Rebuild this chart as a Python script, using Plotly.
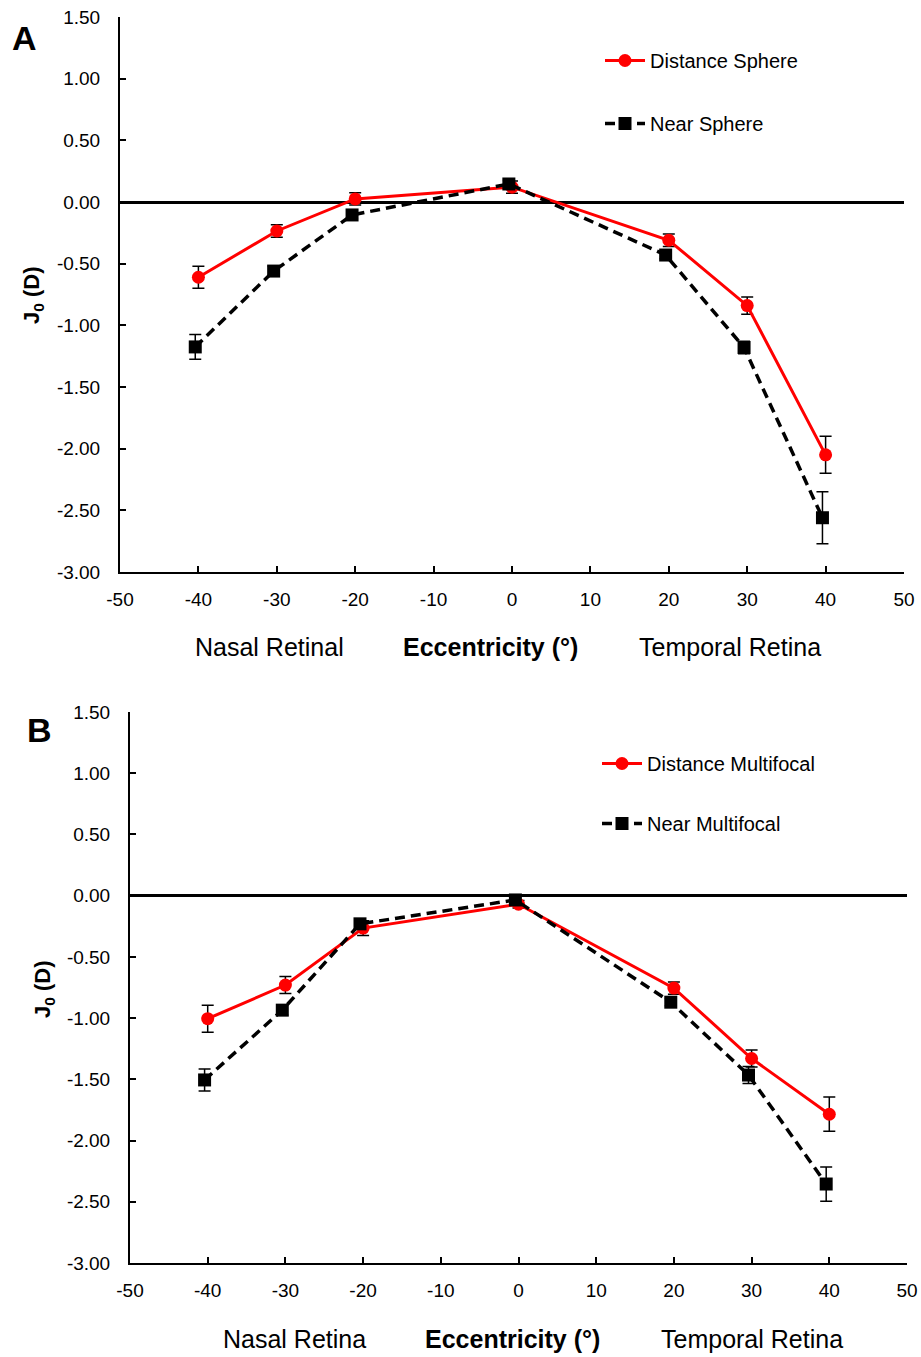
import plotly.graph_objects as go

# ---------------- data ----------------
ecc_dist = [-40, -30, -20, 0, 20, 30, 40]
ecc_near = [-40.4, -30.4, -20.4, -0.4, 19.6, 29.6, 39.6]

# Panel A
a_dist = [-0.61, -0.235, 0.025, 0.12, -0.31, -0.84, -2.05]
a_dist_err = [0.09, 0.05, 0.05, 0.05, 0.05, 0.07, 0.15]
a_near = [-1.175, -0.56, -0.105, 0.146, -0.43, -1.18, -2.56]
a_near_err = [0.10, 0.04, 0.03, 0.03, 0.03, 0.05, 0.21]

# Panel B
b_dist = [-1.005, -0.73, -0.265, -0.07, -0.755, -1.33, -1.785]
b_dist_err = [0.11, 0.07, 0.06, 0.03, 0.05, 0.07, 0.14]
b_near = [-1.505, -0.935, -0.23, -0.035, -0.87, -1.465, -2.355]
b_near_err = [0.09, 0.04, 0.03, 0.03, 0.03, 0.07, 0.14]

x_ticks = [-50, -40, -30, -20, -10, 0, 10, 20, 30, 40, 50]
x_tick_labels = ["-50", "-40", "-30", "-20", "-10", "0", "10", "20", "30", "40", "50"]
y_ticks = [1.5, 1.0, 0.5, 0.0, -0.5, -1.0, -1.5, -2.0, -2.5, -3.0]
y_tick_labels = ["1.50", "1.00", "0.50", "0.00", "-0.50", "-1.00", "-1.50", "-2.00", "-2.50", "-3.00"]

names_a = ["Distance Sphere", "Near Sphere"]
names_b = ["Distance Multifocal", "Near Multifocal"]

FONT = "Liberation Sans, Arial, sans-serif"
W, H = 921, 1357


def px(x):
    return x / W


def py(y):
    return 1 - y / H


fig = go.Figure()


def add_panel(dist, dist_err, near, near_err, names, xa, ya, legend):
    fig.add_trace(go.Scatter(
        x=ecc_dist, y=dist, name=names[0], mode="lines+markers",
        line=dict(color="#ff0000", width=3),
        marker=dict(symbol="circle", size=13, color="#ff0000"),
        error_y=dict(type="data", array=dist_err, color="black", thickness=1.5, width=6),
        xaxis=xa, yaxis=ya, legend=legend, legendgroup=legend + "d",
    ))
    fig.add_trace(go.Scatter(
        x=ecc_near, y=near, name=names[1], mode="lines+markers",
        line=dict(color="black", width=3.5, dash="10px,6px"),
        marker=dict(symbol="square", size=13, color="black"),
        error_y=dict(type="data", array=near_err, color="black", thickness=1.5, width=6),
        xaxis=xa, yaxis=ya, legend=legend, legendgroup=legend + "n",
    ))


add_panel(a_dist, a_dist_err, a_near, a_near_err, names_a, "x", "y", "legend")
add_panel(b_dist, b_dist_err, b_near, b_near_err, names_b, "x2", "y2", "legend2")

axis_common = dict(
    showgrid=False, showline=True, linecolor="black", linewidth=2,
    ticks="inside", ticklen=6, tickwidth=1.5, tickcolor="black",
    tickfont=dict(family=FONT, size=19, color="black"),
    automargin=False, ticklabeloverflow="allow",
)

fig.update_layout(
    width=W, height=H, margin=dict(l=0, r=0, t=0, b=0, autoexpand=False),
    paper_bgcolor="white", plot_bgcolor="white",
    font=dict(family=FONT, color="black"),
    xaxis=dict(domain=[px(120), px(904)], range=[-50, 50], tickvals=x_ticks, ticktext=x_tick_labels,
               anchor="y", zeroline=False, ticklabelstandoff=9, **axis_common),
    yaxis=dict(domain=[py(572), py(17)], range=[-3, 1.5], tickvals=y_ticks, ticktext=y_tick_labels,
               anchor="x", zeroline=True, zerolinecolor="black", zerolinewidth=2.5,
               ticklabelstandoff=14, **axis_common),
    xaxis2=dict(domain=[px(130), px(907)], range=[-50, 50], tickvals=x_ticks, ticktext=x_tick_labels,
                anchor="y2", zeroline=False, ticklabelstandoff=9, **axis_common),
    yaxis2=dict(domain=[py(1263), py(712)], range=[-3, 1.5], tickvals=y_ticks, ticktext=y_tick_labels,
                anchor="x2", zeroline=True, zerolinecolor="black", zerolinewidth=2.5,
                ticklabelstandoff=14, **axis_common),
    legend=dict(x=px(600), y=py(41), xanchor="left", yanchor="top",
                bgcolor="rgba(0,0,0,0)", font=dict(family=FONT, size=20, color="black"),
                tracegroupgap=34, itemwidth=40),
    legend2=dict(x=px(597), y=py(744), xanchor="left", yanchor="top",
                 bgcolor="rgba(0,0,0,0)", font=dict(family=FONT, size=20, color="black"),
                 tracegroupgap=31, itemwidth=40),
    showlegend=True,
)

ann_font = dict(family=FONT, size=25, color="black")
annotations = [
    dict(text="<b>A</b>", x=px(24), y=py(38), font=dict(family=FONT, size=34, color="black")),
    dict(text="<b>B</b>", x=px(39), y=py(730), font=dict(family=FONT, size=34, color="black")),
    dict(text="<b>J<sub>0</sub> (D)</b>", x=px(33), y=py(296), textangle=-90,
         font=dict(family=FONT, size=22, color="black")),
    dict(text="<b>J<sub>0</sub> (D)</b>", x=px(44), y=py(990), textangle=-90,
         font=dict(family=FONT, size=22, color="black")),
    dict(text="Nasal Retinal", x=px(269), y=py(647), font=ann_font),
    dict(text="<b>Eccentricity (°)</b>", x=px(490), y=py(647), font=ann_font),
    dict(text="Temporal Retina", x=px(730), y=py(647), font=ann_font),
    dict(text="Nasal Retina", x=px(294), y=py(1339), font=ann_font),
    dict(text="<b>Eccentricity (°)</b>", x=px(512), y=py(1339), font=ann_font),
    dict(text="Temporal Retina", x=px(752), y=py(1339), font=ann_font),
]
for a in annotations:
    a.update(xref="paper", yref="paper", showarrow=False, xanchor="center", yanchor="middle")
fig.update_layout(annotations=annotations)

fig.write_html(
    "out.html",
    config={"displayModeBar": False},
    post_script="document.body.style.margin='0';document.body.style.overflow='hidden';",
)
